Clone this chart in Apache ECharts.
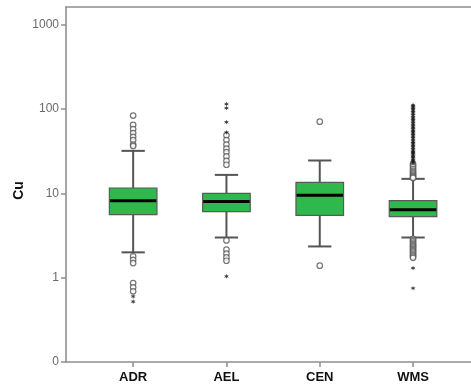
<!DOCTYPE html>
<html>
<head>
<meta charset="utf-8">
<script src="https://cdn.jsdelivr.net/npm/echarts@6/dist/echarts.min.js"></script>
<style>
html,body{margin:0;padding:0;background:#fff;}
#chart{width:471px;height:387px;}
</style>
</head>
<body>
<div id="chart"></div>
<script>
// Categories
var categories = ['ADR', 'AEL', 'CEN', 'WMS'];
// Box statistics: [lowerWhisker, Q1, median, Q3, upperWhisker]
var boxStats = [
  [2.0, 5.6, 8.2, 11.6, 32],
  [3.0, 6.1, 8.0, 10.0, 16.6],
  [2.35, 5.5, 9.5, 13.5, 24.6],
  [3.0, 5.3, 6.4, 8.2, 14.9]
];
// Mild outliers (circles): [categoryIndex, value]
var circleOutliers = [
  [0, 84], [0, 65], [0, 58], [0, 52], [0, 47], [0, 43], [0, 38], [0, 36.5],
  [0, 1.79], [0, 1.63], [0, 1.49],
  [0, 0.865], [0, 0.77], [0, 0.69],
  [1, 49], [1, 43], [1, 38], [1, 34], [1, 31], [1, 27.5], [1, 24.4], [1, 21.9],
  [1, 2.77], [1, 2.15], [1, 1.93], [1, 1.74], [1, 1.59],
  [2, 71], [2, 1.39],
  [3, 22.5], [3, 21.5], [3, 20.5], [3, 19.5], [3, 18.7], [3, 18.0], [3, 17.3], [3, 16.7], [3, 16.2], [3, 15.7], [3, 15.3],
  [3, 2.9], [3, 2.8], [3, 2.7], [3, 2.6], [3, 2.5], [3, 2.42], [3, 2.35], [3, 2.28], [3, 2.2], [3, 2.12],
  [3, 2.05], [3, 1.98], [3, 1.9], [3, 1.84], [3, 1.78], [3, 1.72]
];
// Extreme outliers (stars): [categoryIndex, value]
var starOutliers = [
  [0, 0.60], [0, 0.52],
  [1, 115], [1, 103], [1, 70], [1, 53], [1, 1.04],
  [3, 112], [3, 108], [3, 104], [3, 100], [3, 96], [3, 92], [3, 88], [3, 84], [3, 80], [3, 77],
  [3, 74], [3, 71], [3, 68], [3, 65], [3, 62], [3, 60], [3, 57], [3, 55], [3, 53], [3, 51],
  [3, 49], [3, 47], [3, 45], [3, 43], [3, 41], [3, 39.5], [3, 38], [3, 36.5], [3, 35], [3, 33.5],
  [3, 32], [3, 31], [3, 30], [3, 29], [3, 28], [3, 27], [3, 26], [3, 25], [3, 24], [3, 23.2],
  [3, 1.30], [3, 0.75]
];
// Y tick values and labels
var yTickValues = [0.1, 1, 10, 100, 1000];
var yTickLabels = ['0', '1', '10', '100', '1000'];

var starPath = 'path://M0,-10L-2,-3.46L-8.66,-5L-4,0L-8.66,5L-2,3.46L0,10L2,3.46L8.66,5L4,0L8.66,-5L2,-3.46Z';

var chart = echarts.init(document.getElementById('chart'), null, {renderer: 'canvas'});

var boxData = boxStats.map(function (s, i) { return [i].concat(s); });
var frameLine = {show: true, lineStyle: {color: '#8f8f8f', width: 1.6}};

var option = {
  animation: false,
  backgroundColor: '#ffffff',
  grid: [
    {left: 86.5, right: 11.3, top: 7, bottom: 25, containLabel: false},
    {left: 66, right: 0, top: 7, bottom: 25, show: false}
  ],
  xAxis: [
    {
      type: 'category', gridIndex: 0, data: categories, boundaryGap: true,
      axisLine: {show: false},
      axisTick: {show: true, alignWithLabel: true, length: 5, lineStyle: {color: '#8f8f8f', width: 1.5}},
      axisLabel: {color: '#111', fontFamily: 'Liberation Sans', fontWeight: 'bold', fontSize: 13, margin: 9},
      splitLine: {show: false}
    },
    {type: 'value', gridIndex: 1, position: 'bottom', min: 0, max: 1, axisLine: frameLine,
      axisTick: {show: false}, axisLabel: {show: false}, splitLine: {show: false}},
    {type: 'value', gridIndex: 1, position: 'top', min: 0, max: 1, axisLine: frameLine,
      axisTick: {show: false}, axisLabel: {show: false}, splitLine: {show: false}}
  ],
  yAxis: [
    {
      type: 'log', gridIndex: 0, logBase: 10, min: 0.1, max: 1630, offset: 20.5,
      name: 'Cu', nameLocation: 'middle', nameGap: 40, nameRotate: 90, nameMoveOverlap: false,
      nameTextStyle: {color: '#111', fontFamily: 'Liberation Sans', fontWeight: 'bold', fontSize: 14, padding: [0, 12, 0, 0]},
      axisLine: {show: false},
      axisTick: {show: true, length: 5, customValues: yTickValues, lineStyle: {color: '#8f8f8f', width: 1.5}},
      axisLabel: {
        customValues: yTickValues, color: '#6a6a6a', fontFamily: 'Liberation Sans', fontSize: 12, margin: 7,
        formatter: function (v) {
          for (var i = 0; i < yTickValues.length; i++) {
            if (Math.abs(v - yTickValues[i]) / yTickValues[i] < 1e-6) return yTickLabels[i];
          }
          return '';
        }
      },
      splitLine: {show: false}
    },
    {type: 'value', gridIndex: 1, position: 'left', min: 0, max: 1, axisLine: frameLine,
      axisTick: {show: false}, axisLabel: {show: false}, splitLine: {show: false}}
  ],
  series: [
    {
      type: 'custom', xAxisIndex: 0, yAxisIndex: 0, z: 3,
      data: boxData,
      encode: {x: 0, y: [1, 2, 3, 4, 5]},
      renderItem: function (params, api) {
        var ci = api.value(0);
        var pLow = api.coord([ci, api.value(1)]);
        var pQ1 = api.coord([ci, api.value(2)]);
        var pMed = api.coord([ci, api.value(3)]);
        var pQ3 = api.coord([ci, api.value(4)]);
        var pHigh = api.coord([ci, api.value(5)]);
        var band = api.size([1, 0])[0];
        var bw = band * 0.51;
        var cw = band * 0.25;
        var x = pMed[0];
        var wStyle = {stroke: '#555555', lineWidth: 2};
        return {
          type: 'group',
          children: [
            {type: 'line', shape: {x1: x, y1: pHigh[1], x2: x, y2: pQ3[1]}, style: wStyle},
            {type: 'line', shape: {x1: x, y1: pQ1[1], x2: x, y2: pLow[1]}, style: wStyle},
            {type: 'line', shape: {x1: x - cw / 2, y1: pHigh[1], x2: x + cw / 2, y2: pHigh[1]}, style: wStyle},
            {type: 'line', shape: {x1: x - cw / 2, y1: pLow[1], x2: x + cw / 2, y2: pLow[1]}, style: wStyle},
            {type: 'rect', shape: {x: x - bw / 2, y: pQ3[1], width: bw, height: pQ1[1] - pQ3[1]},
              style: {fill: '#2fb84b', stroke: '#5a5a5a', lineWidth: 1.2}},
            {type: 'line', shape: {x1: x - bw / 2 + 0.6, y1: pMed[1], x2: x + bw / 2 - 0.6, y2: pMed[1]},
              style: {stroke: '#000000', lineWidth: 3}}
          ]
        };
      }
    },
    {
      type: 'scatter', xAxisIndex: 0, yAxisIndex: 0, z: 4,
      data: circleOutliers,
      symbol: 'circle', symbolSize: 5.5,
      itemStyle: {color: '#ffffff', borderColor: '#555555', borderWidth: 1.2}
    },
    {
      type: 'scatter', xAxisIndex: 0, yAxisIndex: 0, z: 5,
      data: starOutliers,
      symbol: starPath, symbolSize: 5,
      itemStyle: {color: '#111111'}
    }
  ]
};
chart.setOption(option);
</script>
</body>
</html>
